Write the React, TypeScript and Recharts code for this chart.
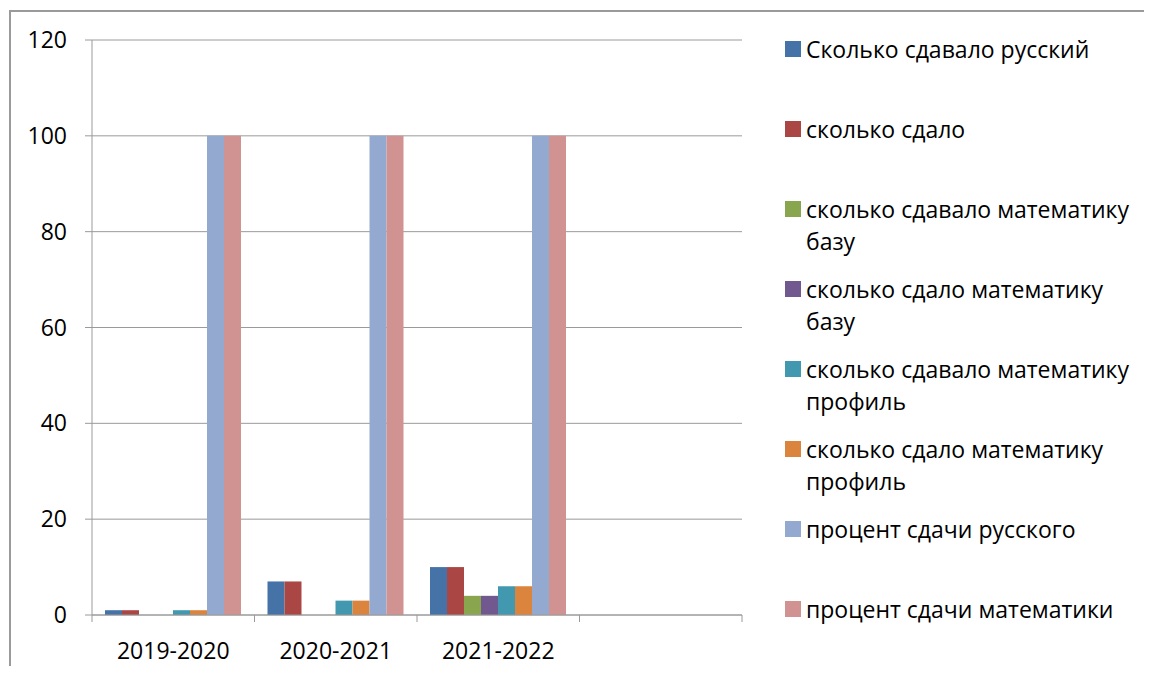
import React from 'react';
import { BarChart, Bar, XAxis, YAxis, CartesianGrid } from 'recharts';

// Categories (last one is empty in the source sheet)
const years = ['2019-2020', '2020-2021', '2021-2022', ''];

// Series values, one array per series
const rusTook = [1, 7, 10, null];
const rusPassed = [1, 7, 10, null];
const baseTook = [0, 0, 4, null];
const basePassed = [0, 0, 4, null];
const profTook = [1, 3, 6, null];
const profPassed = [1, 3, 6, null];
const rusPercent = [100, 100, 100, null];
const mathPercent = [100, 100, 100, null];

const yTicks = [0, 20, 40, 60, 80, 100, 120];

const series = [
  { key: 'rusTook', name: 'Сколько сдавало русский', values: rusTook, color: '#4572A7' },
  { key: 'rusPassed', name: 'сколько сдало', values: rusPassed, color: '#AA4643' },
  { key: 'baseTook', name: 'сколько сдавало математику базу', values: baseTook, color: '#89A54E' },
  { key: 'basePassed', name: 'сколько сдало математику базу', values: basePassed, color: '#71588F' },
  { key: 'profTook', name: 'сколько сдавало математику профиль', values: profTook, color: '#4198AF' },
  { key: 'profPassed', name: 'сколько сдало математику профиль', values: profPassed, color: '#DB843D' },
  { key: 'rusPercent', name: 'процент сдачи русского', values: rusPercent, color: '#93A9CF' },
  { key: 'mathPercent', name: 'процент сдачи математики', values: mathPercent, color: '#D19392' },
];

const data = years.map((year, i) => {
  const row: Record<string, any> = { year };
  series.forEach((s) => {
    row[s.key] = s.values[i];
  });
  return row;
});

// 1152x674 window minus the 8px body margin on each side
const W = 1136;
const H = 658;
const margin = { top: 32, right: 402, left: 0, bottom: 11 };
const Y_WIDTH = 84;
const FONT = '"Open Sans", sans-serif';
const AXIS = '#9a9a9a';

const step = (W - margin.left - margin.right - Y_WIDTH) / years.length;

function XTick(props: any) {
  const { x, y, payload, index } = props;
  const left = x - step / 2;
  return (
    <g>
      <line x1={left} x2={left} y1={y - 7} y2={y} stroke={AXIS} />
      {index === years.length - 1 && (
        <line x1={x + step / 2} x2={x + step / 2} y1={y - 7} y2={y} stroke={AXIS} />
      )}
      <text x={x} y={y + 37} textAnchor="middle" fontSize={23} fontFamily={FONT} fill="#000">
        {payload.value}
      </text>
    </g>
  );
}

export default function App() {
  return (
    <div style={{ position: 'relative', width: W, height: H, background: '#fff' }}>
      {/* outer frame: only its top and left edges fall inside the window */}
      <div style={{ position: 'absolute', left: 1, top: 2, width: W + 7, height: 2, background: AXIS }} />
      <div style={{ position: 'absolute', left: 1, top: 2, width: 2, height: H + 6, background: AXIS }} />
      <div style={{ position: 'absolute', left: 0, top: 0 }}>
        <BarChart width={W} height={H} data={data} margin={margin} barCategoryGap="8%" barGap={0}>
          <CartesianGrid vertical={false} stroke={AXIS} />
          <XAxis
            dataKey="year"
            height={40}
            tickSize={7}
            tickMargin={0}
            tickLine={false}
            axisLine={{ stroke: AXIS }}
            tick={<XTick />}
            interval={0}
          />
          <YAxis
            width={Y_WIDTH}
            domain={[0, 120]}
            ticks={yTicks}
            tickSize={7}
            tickMargin={18}
            axisLine={{ stroke: AXIS }}
            tickLine={{ stroke: AXIS }}
            tick={{ fontSize: 23, fontFamily: FONT, fill: '#000' }}
          />
          {series.map((s) => (
            <Bar key={s.key} dataKey={s.key} name={s.name} fill={s.color} isAnimationActive={false} />
          ))}
        </BarChart>
      </div>
      <div style={{ position: 'absolute', left: 777, top: 25, fontFamily: FONT, fontSize: 23 }}>
        {series.map((s) => (
          <div key={s.key} style={{ display: 'flex', alignItems: 'flex-start', height: 80 }}>
            <div style={{ width: 16, height: 16, background: s.color, marginTop: 8, marginRight: 5, flex: 'none' }} />
            <div style={{ width: 340, lineHeight: '32px', color: '#000' }}>{s.name}</div>
          </div>
        ))}
      </div>
    </div>
  );
}
